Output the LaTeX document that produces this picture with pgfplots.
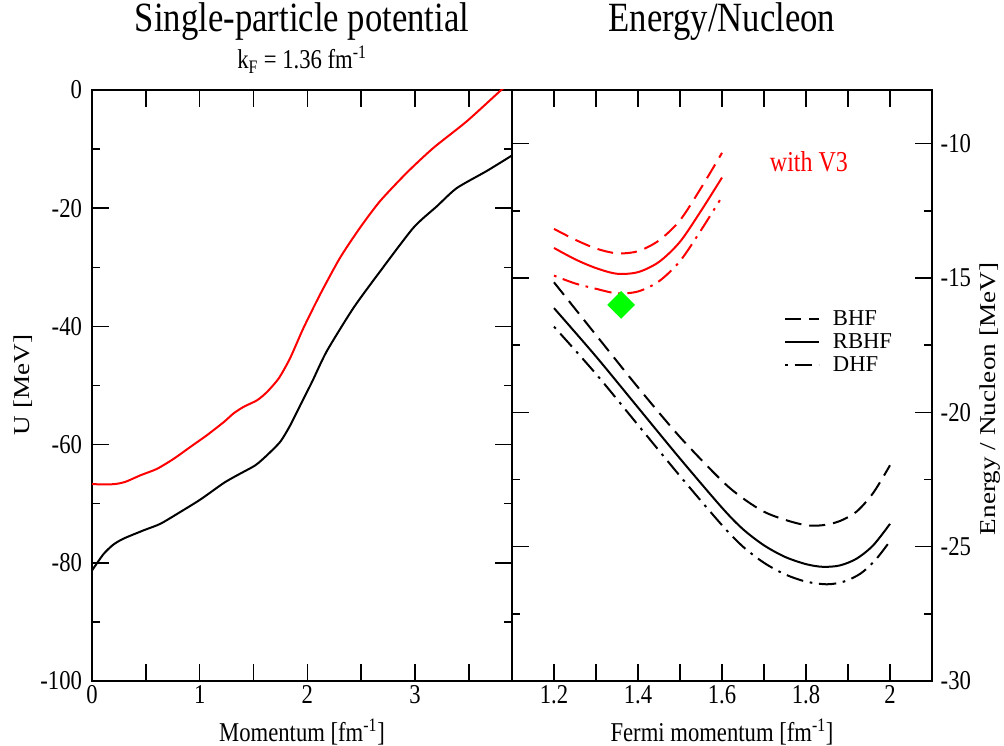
\documentclass[border=0pt]{standalone}
\usepackage{fontspec}
\setmainfont{Liberation Serif}
\usepackage{pgfplots}
\pgfplotsset{compat=1.18}
\definecolor{xred}{RGB}{255,0,0}
\definecolor{xgreen}{RGB}{0,255,0}
\newcommand{\fs}{\fontsize{17}{20}\selectfont}
\newcommand{\ft}{\fontsize{26}{30}\selectfont}
\newcommand{\vs}[1]{\scalebox{1}[1.2]{#1}}
\newcommand{\hs}[1]{\scalebox{1.2}[1]{#1}}
\tikzset{
  bhf/.style={dash pattern=on 12pt off 6pt},
  dhf/.style={dash pattern=on 2pt off 5pt on 13pt off 5pt},
}
\begin{document}
\begin{tikzpicture}
\pgfplotsset{
  myax/.style={
    scale only axis, width=315pt, height=443.25pt,
    axis line style={line width=1.1pt},
    every tick/.style={line width=1.1pt, black},
    major tick length=12.5pt, minor tick length=6.25pt,
    tick align=inside,
    tick label style={font=\fs},
    every axis plot/.append style={line width=1.5pt},
  }
}
% ---------------- left panel
\begin{axis}[myax, at={(0pt,0pt)}, anchor=south west,
  xmin=0, xmax=3.9, ymin=-100, ymax=0,
  xtick={0,0.5,1,1.5,2,2.5,3,3.5}, xticklabels={\vs{0},,\vs{1},,\vs{2},,\vs{3},},
  ytick={-100,-80,-60,-40,-20,0}, yticklabels={\vs{-100},\vs{-80},\vs{-60},\vs{-40},\vs{-20},\vs{0}},
  minor ytick={-90,-70,-50,-30,-10},
  yticklabel style={xshift=-4pt},
  xtick pos=both, ytick pos=both, xticklabel pos=bottom, yticklabel pos=left,
]
\addplot[black, smooth, tension=0.4] coordinates {
(0,-81.3) (0.108,-78.5) (0.2,-76.9) (0.294,-75.9) (0.48,-74.5) (0.635,-73.4)
(0.82,-71.4) (1.006,-69.3) (1.223,-66.5) (1.347,-65.2) (1.517,-63.5) (1.625,-61.8)
(1.749,-59.5) (1.842,-56.7) (1.935,-53.3) (2.043,-49.4) (2.18,-44.2) (2.427,-36.9)
(2.675,-30.7) (2.985,-23.3) (3.201,-19.7) (3.387,-16.6) (3.666,-13.7) (3.898,-11.1)};
\addplot[xred, smooth, tension=0.4] coordinates {
(0,-66.7) (0.2,-66.7) (0.31,-66.3) (0.449,-65.2) (0.604,-64.1) (0.759,-62.4)
(0.913,-60.4) (1.068,-58.4) (1.223,-56.2) (1.316,-54.7) (1.409,-53.6) (1.533,-52.5)
(1.625,-51.1) (1.734,-48.8) (1.839,-45.4) (1.963,-40.3) (2.118,-34.6) (2.303,-28.4)
(2.489,-23.3) (2.675,-18.8) (2.923,-14.0) (3.17,-9.8) (3.48,-5.3) (3.8,0) (3.85,0.7)};
\end{axis}
% ---------------- right panel
\begin{axis}[myax, at={(315pt,0pt)}, anchor=south west,
  xmin=1.1, xmax=2.1, ymin=-30, ymax=-8,
  xtick={1.2,1.3,1.4,1.5,1.6,1.7,1.8,1.9,2.0},
  xticklabels={\vs{1.2},,\vs{1.4},,\vs{1.6},,\vs{1.8},,\vs{2}},
  ytick={-30,-25,-20,-15,-10}, yticklabels={\vs{-30},\vs{-25},\vs{-20},\vs{-15},\vs{-10}},
  minor ytick={-27.5,-22.5,-17.5,-12.5},
  yticklabel style={xshift=3pt},
  xtick pos=both, yticklabel pos=right, ytick pos=both, xticklabel pos=bottom,
  legend style={draw=none, fill=none, at={(axis cs:1.738,-16.05)}, anchor=north west,
    font=\fs, row sep=2.5pt, nodes={inner sep=1pt},
    /tikz/every odd column/.append style={column sep=9pt}},
  legend cell align=left,
  legend image code/.code={\draw[#1] (0pt,0pt) -- (25pt,0pt);},
]
\addplot[black, bhf, smooth, tension=0.5] coordinates {
(1.2,-15.16) (1.3,-17.12) (1.4,-19.07) (1.5,-20.92) (1.6,-22.55) (1.65,-23.2)
(1.7,-23.7) (1.75,-24.0) (1.8,-24.2) (1.84,-24.2) (1.88,-24.05) (1.92,-23.7)
(1.96,-23.0) (2.0,-21.97)};
\addlegendentry{BHF}
\addplot[black, smooth, tension=0.5] coordinates {
(1.2,-16.12) (1.3,-17.92) (1.4,-19.82) (1.5,-21.72) (1.6,-23.55) (1.65,-24.35)
(1.7,-24.95) (1.75,-25.38) (1.8,-25.65) (1.84,-25.75) (1.88,-25.7) (1.92,-25.45)
(1.96,-24.95) (2.0,-24.15)};
\addlegendentry{RBHF}
\addplot[black, dhf, smooth, tension=0.5] coordinates {
(1.2,-16.81) (1.3,-18.57) (1.4,-20.47) (1.5,-22.37) (1.6,-24.2) (1.65,-25.0)
(1.7,-25.6) (1.75,-26.03) (1.8,-26.3) (1.85,-26.4) (1.89,-26.3) (1.93,-26.0)
(1.965,-25.5) (1.995,-24.9)};
\addlegendentry{DHF}
\addplot[xred, bhf, smooth, tension=0.5, forget plot] coordinates {
(1.2,-13.17) (1.25,-13.57) (1.3,-13.9) (1.35,-14.08) (1.4,-14.0) (1.45,-13.6)
(1.5,-12.85) (1.55,-11.65) (1.6,-10.34)};
\addplot[xred, smooth, tension=0.5, forget plot] coordinates {
(1.2,-13.88) (1.25,-14.3) (1.3,-14.63) (1.35,-14.84) (1.4,-14.78) (1.45,-14.4)
(1.5,-13.65) (1.55,-12.5) (1.6,-11.26)};
\addplot[xred, dhf, smooth, tension=0.5, forget plot] coordinates {
(1.2,-14.91) (1.25,-15.2) (1.3,-15.4) (1.35,-15.57) (1.4,-15.5) (1.45,-15.12)
(1.5,-14.37) (1.55,-13.22) (1.595,-12.1)};
\addplot[only marks, mark=square*, mark size=6.6pt, color=xgreen,
  mark options={rotate=45, fill=xgreen, draw=xgreen}, forget plot]
  coordinates {(1.36,-16.0)};
\node[font=\fontsize{18}{21}\selectfont, text=xred] at (axis cs:1.807,-10.68) {\vs{with V3}};
\end{axis}
% ---------------- titles and labels
\node[font=\ft] at (157.5pt,494.25pt) {\vs{Single-particle potential}};
\node[font=\fs] at (157.5pt,466pt) {\vs{k\textsubscript{F} = 1.36 fm\textsuperscript{-1}}};
\node[font=\ft] at (472.5pt,494.25pt) {\vs{Energy/Nucleon}};
\node[font=\fs] at (157.5pt,-38.25pt) {\vs{Momentum [fm\textsuperscript{-1}]}};
\node[font=\fs] at (472.5pt,-38.25pt) {\vs{Fermi momentum [fm\textsuperscript{-1}]}};
\node[font=\fs, rotate=90] at (-52pt,222pt) {\hs{U [MeV]}};
\node[font=\fs, rotate=90] at (673.5pt,211.5pt) {\hs{Energy / Nucleon [MeV]}};
\pgfresetboundingbox
\useasboundingbox (-69pt,-48.75pt) rectangle (684pt,510.75pt);
\end{tikzpicture}
\end{document}
